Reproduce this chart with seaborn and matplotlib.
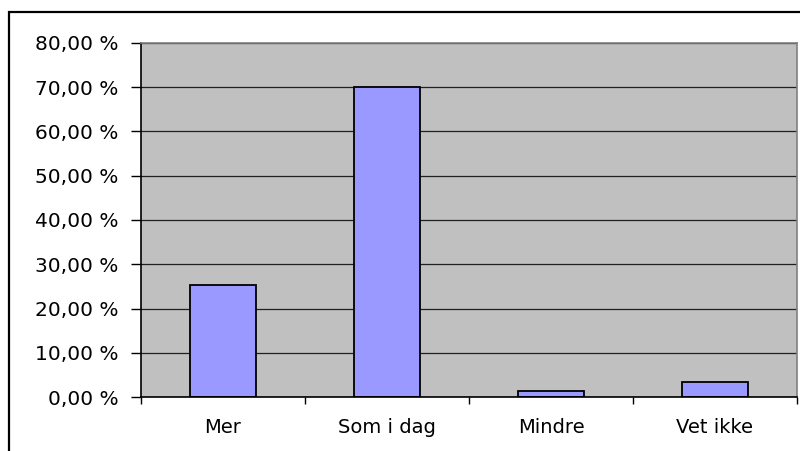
import matplotlib
matplotlib.use("Agg")
import matplotlib.pyplot as plt
import seaborn as sns
import pandas as pd
from matplotlib.ticker import FixedLocator, FuncFormatter
from matplotlib.patches import Rectangle

# data
categories = ["Mer", "Som i dag", "Mindre", "Vet ikke"]
shares = [25.3, 70.0, 1.4, 3.4]

df = pd.DataFrame({"svar": categories, "andel": shares})

sns.set_style("white")
plt.rcParams["font.family"] = ["DejaVu Sans"]
plt.rcParams["text.color"] = "black"
plt.rcParams["xtick.color"] = "black"
plt.rcParams["ytick.color"] = "black"

fig = plt.figure(figsize=(8, 4.51), dpi=100)
ax = fig.add_axes([0.17625, 0.1197, 0.82, 0.785])

# outer chart border (Excel style)
fig.patches.append(Rectangle((9 / 800, -0.05), 1.0, 1 - 12 / 451 + 0.05,
                             transform=fig.transFigure, fill=False,
                             edgecolor="black", linewidth=1.6))

sns.barplot(data=df, x="svar", y="andel", order=categories, color="#9999FF",
            saturation=1, width=0.4, edgecolor="black", linewidth=1.3, ax=ax)

ax.set_facecolor("#C0C0C0")
ax.set_xlim(-0.5, 3.5)
ax.set_ylim(0, 80)
ax.set_yticks(range(0, 81, 10))
ax.yaxis.set_major_formatter(FuncFormatter(lambda v, p: f"{v:.2f} %".replace(".", ",")))
ax.grid(axis="y", color="#202020", linewidth=0.9)
ax.set_axisbelow(True)

ax.set_xlabel("")
ax.set_ylabel("")

# labels at bar centres, tick marks at category borders
ax.tick_params(axis="x", which="major", bottom=True, length=0, pad=15, labelsize=14,
               labelcolor="black")
ax.xaxis.set_minor_locator(FixedLocator([-0.5, 0.5, 1.5, 2.5, 3.5]))
ax.tick_params(axis="x", which="minor", bottom=True, length=5, width=1,
               color="black", direction="out")
ax.tick_params(axis="y", left=True, length=7, width=1, color="black", direction="out",
               pad=9, labelsize=14.5, labelcolor="black")

for side in ["left", "bottom"]:
    ax.spines[side].set_color("black")
    ax.spines[side].set_linewidth(1.2)
for side in ["top", "right"]:
    ax.spines[side].set_color("#808080")
    ax.spines[side].set_linewidth(1.2)

fig.savefig("out.png", dpi=100)
